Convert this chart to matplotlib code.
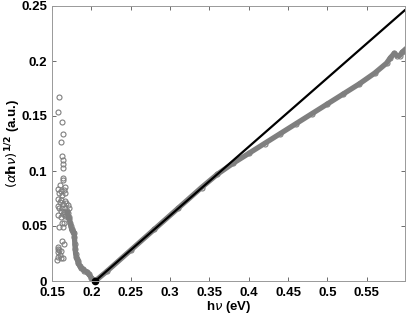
import matplotlib
matplotlib.use('Agg')
import matplotlib.pyplot as plt

plt.rcParams['font.family'] = ['Liberation Sans', 'DejaVu Sans']
plt.rcParams['mathtext.fontset'] = 'dejavusans'

# scattered noisy points at low energy
scatter_x = [0.159, 0.158, 0.1624, 0.1645, 0.1619, 0.1624, 0.1645, 0.1637, 0.1637, 0.1637, 0.1645, 0.160, 0.1666,
             0.157, 0.159, 0.161, 0.163, 0.165, 0.167, 0.158, 0.160, 0.162, 0.164, 0.166, 0.168, 0.170,
             0.157, 0.159, 0.161, 0.163, 0.165, 0.167, 0.169, 0.171, 0.158, 0.161, 0.164, 0.166, 0.168, 0.170,
             0.163, 0.165, 0.159, 0.164, 0.163, 0.165, 0.157, 0.158, 0.159, 0.160, 0.157, 0.161, 0.162, 0.156,
             0.158, 0.1645]
scatter_y = [0.167, 0.154, 0.145, 0.134, 0.126, 0.114, 0.110, 0.106, 0.103, 0.094, 0.092, 0.087, 0.0855,
             0.084, 0.080, 0.082, 0.078, 0.083, 0.080, 0.075, 0.072, 0.074, 0.070, 0.073, 0.071, 0.069,
             0.068, 0.066, 0.064, 0.066, 0.063, 0.066, 0.064, 0.066, 0.060, 0.058, 0.061, 0.059, 0.060, 0.058,
             0.053, 0.053, 0.049, 0.049, 0.036, 0.034, 0.029, 0.026, 0.028, 0.024, 0.022, 0.021, 0.027, 0.019,
             0.031, 0.021]

# dense measured curve (descending edge, then rising part)
curve_x = [0.170, 0.171, 0.172, 0.173, 0.174, 0.175, 0.176, 0.177, 0.178, 0.1785, 0.179, 0.1795, 0.180,
           0.181, 0.182, 0.183, 0.1835, 0.185, 0.187, 0.189, 0.191, 0.194, 0.197, 0.200, 0.2026, 0.205,
           0.22, 0.25, 0.28, 0.31, 0.34, 0.36, 0.38, 0.40, 0.42, 0.44, 0.46, 0.48, 0.50, 0.52, 0.54,
           0.56, 0.575, 0.58, 0.585, 0.588, 0.592, 0.595, 0.598]
curve_y = [0.062, 0.058, 0.056, 0.053, 0.050, 0.047, 0.046, 0.045, 0.044, 0.040, 0.034, 0.029, 0.025,
           0.022, 0.020, 0.018, 0.016, 0.014, 0.012, 0.011, 0.0095, 0.0085, 0.006, 0.003, 0.001, 0.0,
           0.009, 0.028, 0.047, 0.066, 0.085, 0.097, 0.107, 0.116, 0.125, 0.134, 0.143, 0.152, 0.161,
           0.170, 0.179, 0.189, 0.198, 0.203, 0.207, 0.205, 0.205, 0.208, 0.210]

# linear fit (Tauc line) and intercept
fit_x = [0.205, 0.598]
fit_y = [0.0, 0.246]
gap_x = [0.205]
gap_y = [0.0]

fig = plt.figure(figsize=(4.07, 3.21), dpi=100)
ax = fig.add_axes([52/407, 40/321, 353/407, 275/321])

gray = '#7f7f7f'
ax.plot(curve_x, curve_y, '-', color=gray, lw=3.8)
ax.plot(curve_x, curve_y, 'o', mfc='none', mec=gray, ms=3.6, mew=0.8)
ax.plot(scatter_x, scatter_y, 'o', mfc='none', mec=gray, ms=3.6, mew=0.8)
ax.plot(fit_x, fit_y, '-', color='black', lw=1.6)
ax.plot(gap_x, gap_y, 'o', color='black', ms=4.5, clip_on=False)

ax.set_xlim(0.15, 0.5985)
ax.set_ylim(0, 0.25)
xt = [0.15, 0.2, 0.25, 0.3, 0.35, 0.4, 0.45, 0.5, 0.55]
ax.set_xticks(xt)
ax.set_xticklabels(['0.15', '0.2', '0.25', '0.3', '0.35', '0.4', '0.45', '0.5', '0.55'])
yt = [0, 0.05, 0.1, 0.15, 0.2, 0.25]
ax.set_yticks(yt)
ax.set_yticklabels(['0', '0.05', '0.1', '0.15', '0.2', '0.25'])
ax.tick_params(direction='in', top=True, right=True, length=3, width=0.6,
               color='#555555', labelsize=9.5)
ax.tick_params(axis='x', pad=4.5)
ax.tick_params(axis='y', pad=3.5)
for lab in ax.get_xticklabels() + ax.get_yticklabels():
    lab.set_fontweight('bold')
for s in ax.spines.values():
    s.set_color('#999999')
    s.set_linewidth(0.7)

ax.set_xlabel(r'h$\nu$ (eV)', fontsize=9.5, fontweight='bold')
ax.set_ylabel(r'$(\alpha \mathbf{h} \nu)^{\mathbf{1/2}}$ (a.u.)', fontsize=9.5, fontweight='bold')
ax.xaxis.set_label_coords(0.5, -0.066)
ax.yaxis.set_label_coords(-0.083, 0.5)

fig.savefig('out.png', dpi=100)
